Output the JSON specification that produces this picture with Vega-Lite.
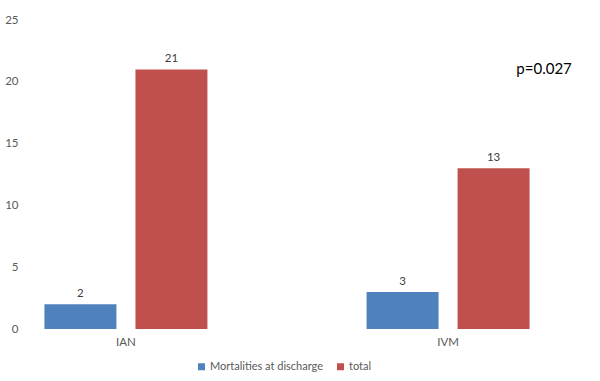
{
  "$schema": "https://vega.github.io/schema/vega-lite/v6.json",
  "autosize": "none",
  "width": 518,
  "height": 309,
  "padding": {"left": 28, "top": 20, "right": 54, "bottom": 52},
  "background": "white",
  "config": {
    "view": {"stroke": null},
    "font": "Lato",
    "axis": {"labelFont": "Lato", "labelColor": "#595959", "labelFontSize": 11.5},
    "legend": {"labelFont": "Lato", "labelColor": "#595959", "labelFontSize": 11}
  },
  "data": {
    "values": [
      {"group": "IAN", "series": "Mortalities at discharge", "value": 2},
      {"group": "IAN", "series": "total", "value": 21},
      {"group": "IVM", "series": "Mortalities at discharge", "value": 3},
      {"group": "IVM", "series": "total", "value": 13}
    ]
  },
  "encoding": {
    "x": {
      "field": "group", "type": "nominal",
      "scale": {"paddingInner": 0.494, "paddingOuter": 0.051},
      "axis": {"title": null, "labelAngle": 0, "ticks": false, "domain": false, "labelPadding": 7}
    },
    "xOffset": {
      "field": "series", "type": "nominal",
      "scale": {"paddingInner": 0.209, "paddingOuter": 0}
    },
    "y": {
      "field": "value", "type": "quantitative",
      "scale": {"domain": [0, 25], "nice": false},
      "axis": {"title": null, "values": [0, 5, 10, 15, 20, 25], "grid": false, "ticks": false, "domain": false, "labelPadding": 10}
    }
  },
  "layer": [
    {
      "mark": {"type": "bar"},
      "encoding": {
        "color": {
          "field": "series", "type": "nominal",
          "scale": {"domain": ["Mortalities at discharge", "total"], "range": ["#4F81BD", "#C0504D"]},
          "legend": {"title": null, "orient": "none", "legendX": 168, "legendY": 341, "direction": "horizontal", "symbolType": "square", "symbolSize": 49, "symbolStrokeWidth": 0, "columnPadding": 12, "labelOffset": 3}
        }
      }
    },
    {
      "mark": {"type": "text", "baseline": "bottom", "dy": -5, "fontSize": 11.5, "color": "#404040"},
      "encoding": {"text": {"field": "value", "type": "quantitative"}}
    },
    {
      "data": {"values": [{"label": "p=0.027", "group": "IVM", "value": 21}]},
      "mark": {"type": "text", "align": "center", "baseline": "middle", "fontSize": 15, "color": "#000000", "dx": 96},
      "encoding": {
        "x": {"field": "group", "type": "nominal"},
        "xOffset": null,
        "y": {"field": "value", "type": "quantitative"},
        "text": {"field": "label"}
      }
    }
  ]
}
